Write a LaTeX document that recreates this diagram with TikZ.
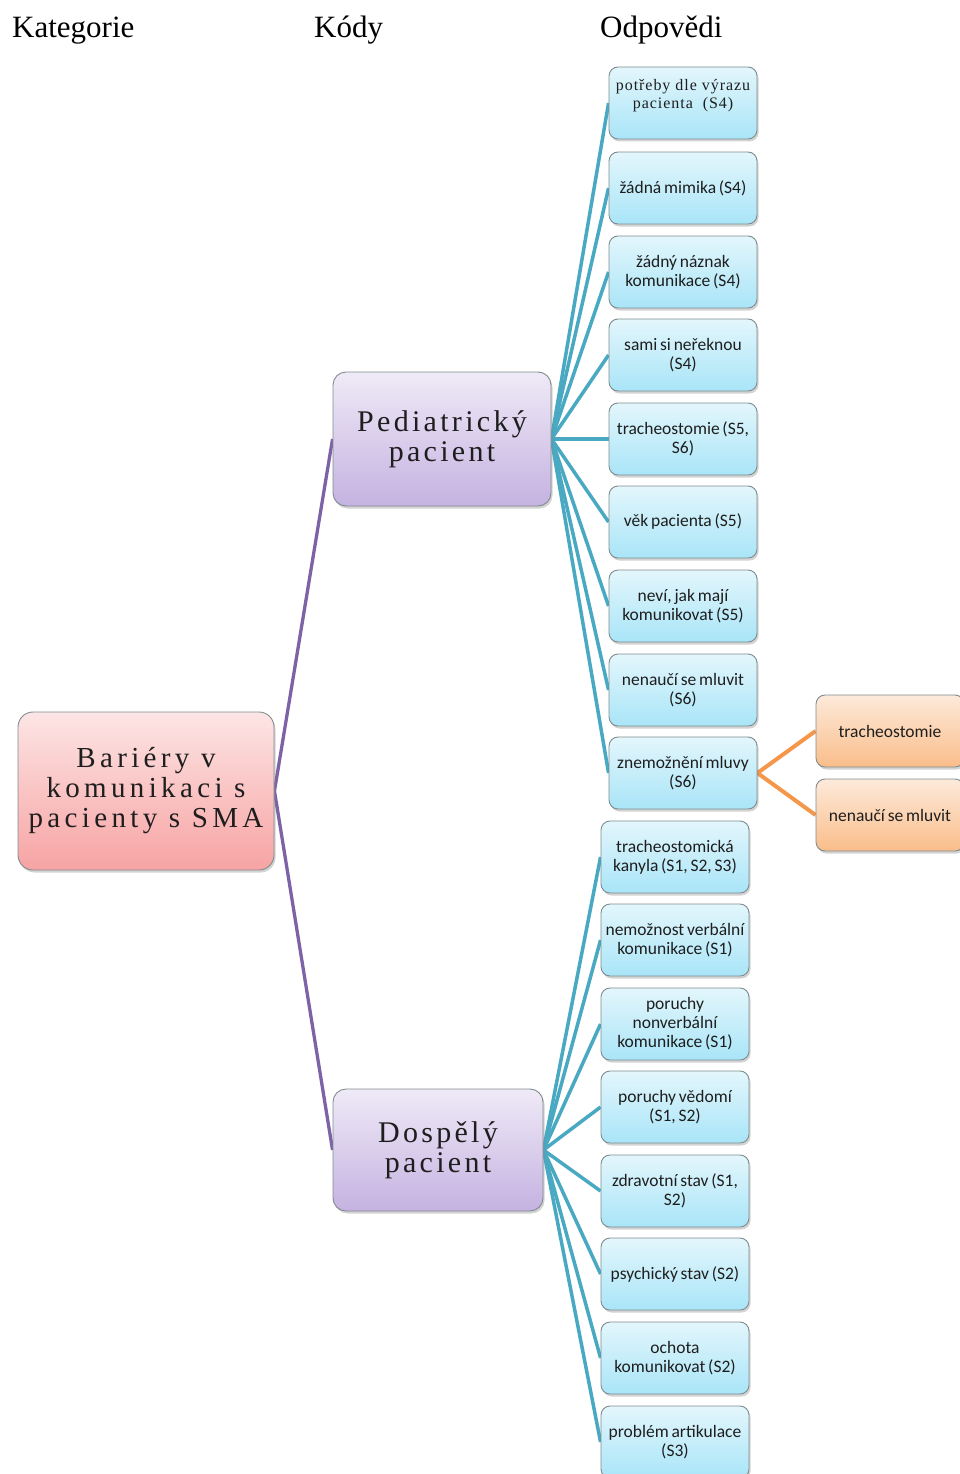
\documentclass[tikz,border=0pt]{standalone}
\usepackage{fontspec}
\setmainfont{Liberation Serif}
\newfontfamily\headfont{Liberation Serif}
\newfontfamily\spacedserif[LetterSpace=11]{Liberation Serif}
\newfontfamily\rootserif[LetterSpace=15]{Liberation Serif}
\newfontfamily\smallserif[LetterSpace=6]{Liberation Serif}
\newfontfamily\boxfont[WordSpace=0.7]{Carlito}
\usetikzlibrary{shadows,backgrounds}

\definecolor{cyantop}{HTML}{E3F6FC}
\definecolor{cyanbot}{HTML}{A9E5F8}
\definecolor{lavtop}{HTML}{EFEAF7}
\definecolor{lavbot}{HTML}{C5B2E1}
\definecolor{pinktop}{HTML}{FDE5E5}
\definecolor{pinkbot}{HTML}{F7A3A3}
\definecolor{orgtop}{HTML}{FDEADA}
\definecolor{orgbot}{HTML}{FABD8A}
\definecolor{boxline}{HTML}{7F8C8F}
\definecolor{tealline}{HTML}{4AA9C2}
\definecolor{purpline}{HTML}{7E62A6}
\definecolor{orgline}{HTML}{F5974A}
\definecolor{txt}{HTML}{1E1E1E}

\tikzset{
  basebox/.style={draw=boxline, line width=0.9pt, rounded corners=9pt, align=center,
    inner sep=0pt, text=txt,
    drop shadow={opacity=0.35, shadow xshift=1.5pt, shadow yshift=-2.5pt}},
  answer/.style={basebox, shading=axis, top color=cyantop, bottom color=cyanbot,
    minimum width=148pt, minimum height=72pt,
    font=\boxfont\fontsize{17.5}{19}\selectfont},
  extra/.style={basebox, shading=axis, top color=orgtop, bottom color=orgbot,
    minimum width=148pt, minimum height=72pt,
    font=\boxfont\fontsize{17.5}{19}\selectfont},
  codebox/.style={basebox, rounded corners=13pt, shading=axis, top color=lavtop, bottom color=lavbot,
    font=\spacedserif\fontsize{30}{30}\selectfont},
  rootbox/.style={basebox, rounded corners=15pt, shading=axis, top color=pinktop, bottom color=pinkbot,
    font=\rootserif\fontsize{29}{30}\selectfont},
  header/.style={anchor=base west, inner sep=0pt, font=\headfont\fontsize{31}{31}\selectfont},
  tealconn/.style={draw=tealline, line width=3.5pt},
  purpconn/.style={draw=purpline, line width=3.3pt},
  orgconn/.style={draw=orgline, line width=4pt},
}

\begin{document}
\begin{tikzpicture}[x=1pt, y=-1pt]
\useasboundingbox (0,0) rectangle (960,1474);

% column headings
\node[header] (hkat) at (12,38) {Kategorie};
\node[header] (hkod) at (314,38) {Kódy};
\node[header] (hodp) at (600,38) {Odpovědi};

% category
\node[rootbox, minimum width=256pt, minimum height=158pt] (root) at (146,791)
  {Bariéry v\\komunikaci s\\pacienty s SMA};

% codes
\node[codebox, minimum width=218pt, minimum height=134pt] (ped) at (442,439)
  {Pediatrický\\pacient};
\node[codebox, minimum width=210pt, minimum height=122pt] (dosp) at (438,1150)
  {Dospělý\\pacient};

% answers: paediatric patient
\node[answer] (p1) at (683,103) {\raisebox{28pt}{\smallserif\fontsize{16}{18}\selectfont\begin{tabular}{@{}c@{}}potřeby dle výrazu\\pacienta~ (S4)\end{tabular}}};
\node[answer] (p2) at (683,188) {žádná mimika (S4)};
\node[answer] (p3) at (683,272) {žádný náznak\\komunikace (S4)};
\node[answer] (p4) at (683,355) {sami si neřeknou\\(S4)};
\node[answer] (p5) at (683,439) {tracheostomie (S5,\\S6)};
\node[answer] (p6) at (683,522) {věk pacienta (S5)};
\node[answer] (p7) at (683,606) {neví, jak mají\\komunikovat (S5)};
\node[answer] (p8) at (683,690) {nenaučí se mluvit\\(S6)};
\node[answer] (p9) at (683,773) {znemožnění mluvy\\(S6)};

% further answers
\node[extra] (o1) at (890,731) {tracheostomie};
\node[extra] (o2) at (890,815) {nenaučí se mluvit};

% answers: adult patient
\node[answer] (a1) at (675,857) {tracheostomická\\kanyla (S1, S2, S3)};
\node[answer] (a2) at (675,940) {nemožnost verbální\\komunikace (S1)};
\node[answer] (a3) at (675,1024) {poruchy\\nonverbální\\komunikace (S1)};
\node[answer] (a4) at (675,1107) {poruchy vědomí\\(S1, S2)};
\node[answer] (a5) at (675,1191) {zdravotní stav (S1,\\S2)};
\node[answer] (a6) at (675,1274) {psychický stav (S2)};
\node[answer] (a7) at (675,1358) {ochota\\komunikovat (S2)};
\node[answer] (a8) at (675,1442) {problém artikulace\\(S3)};

% connectors
\begin{scope}[on background layer]
  \draw[purpconn] (root.east) -- (ped.west);
  \draw[purpconn] (root.east) -- (dosp.west);
  \foreach \n in {p1,p2,p3,p4,p5,p6,p7,p8,p9}
    \draw[tealconn] (ped.east) -- (\n.west);
  \foreach \n in {a1,a2,a3,a4,a5,a6,a7,a8}
    \draw[tealconn] (dosp.east) -- (\n.west);
  \draw[orgconn] (p9.east) -- (o1.west);
  \draw[orgconn] (p9.east) -- (o2.west);
\end{scope}
\end{tikzpicture}
\end{document}
